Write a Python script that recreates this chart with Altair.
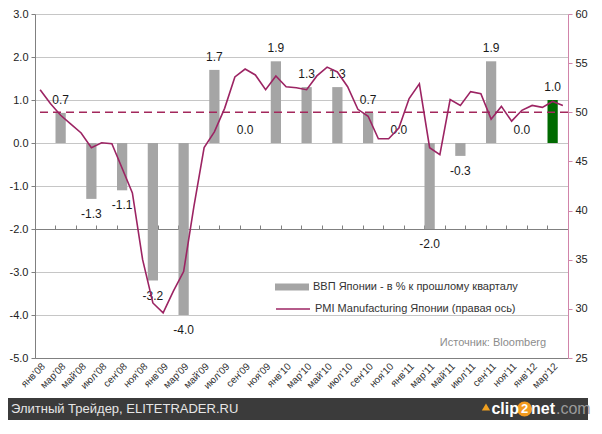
import altair as alt
import pandas as pd

# ---------------- data ----------------
month_names = ["янв", "фев", "мар", "апр", "май", "июн", "июл", "авг", "сен", "окт", "ноя", "дек"]
years = ["08", "09", "10", "11", "12"]
months = [f"{m}'{y}" for y in years for m in month_names][:52]   # янв'08 .. апр'12

pmi = [
    52.3, 50.9, 49.7, 48.8, 47.9, 46.4, 46.9, 46.8, 44.3, 41.8, 35.0, 30.6,   # 2008
    29.6, 31.8, 33.8, 40.4, 46.4, 48.0, 50.4, 53.6, 54.4, 53.8, 52.3, 53.7,   # 2009
    52.6, 52.5, 52.3, 53.7, 54.6, 54.1, 52.6, 50.3, 49.6, 47.3, 47.3, 48.4,   # 2010
    51.4, 52.9, 46.4, 45.7, 51.3, 50.7, 52.1, 51.9, 49.3, 50.6, 49.1, 50.2,   # 2011
    50.7, 50.5, 51.1, 50.7,                                                   # 2012
]

quarters = ["мар'08", "июн'08", "сен'08", "дек'08",
            "мар'09", "июн'09", "сен'09", "дек'09",
            "мар'10", "июн'10", "сен'10", "дек'10",
            "мар'11", "июн'11", "сен'11", "дек'11",
            "мар'12"]
gdp = [0.7, -1.3, -1.1, -3.2, -4.0, 1.7, 0.0, 1.9, 1.3, 1.3, 0.7, 0.0, -2.0, -0.3, 1.9, 0.0, 1.0]

gdp_name = "ВВП Японии - в % к прошлому кварталу"
last_name = "I кв. 2012"
pmi_name = "PMI Manufacturing Японии (правая ось)"
gdp_series = [gdp_name] * (len(gdp) - 1) + [last_name]

left_ticks = [-5, -4, -3, -2, -1, 0, 1, 2, 3]
right_ticks = [25, 30, 35, 40, 45, 50, 55, 60]

# ---------------- tables ----------------
df_gdp = pd.DataFrame({
    "q": quarters,
    "v": gdp,
    "series": gdp_series,
    "lbl": [f"{v:.1f}" for v in gdp],
})
df_pmi = pd.DataFrame({"m": months, "pmi": pmi, "name": [pmi_name] * len(pmi)})

W, H = 533, 344
FONT = "Liberation Sans"
GRAY_AX = "#808080"
GRID = "#c6c6c6"
LINE_C = "#9c2463"
RIGHT_AX = "#d184aa"

x_scale = alt.Scale(type="band", domain=months, paddingInner=0, paddingOuter=0)

# ---------------- GDP group (left axis) ----------------
bars = alt.Chart(df_gdp).mark_bar().encode(
    x=alt.X("q:N", scale=x_scale, title=None,
            axis=alt.Axis(values=months[0::2], labelAngle=-45, labelAlign="right",
                          labelBaseline="top", labelFontSize=10, labelColor="#333333",
                          labelPadding=3, ticks=False, domainColor=GRAY_AX,
                          labelFont=FONT, grid=False)),
    y=alt.Y("v:Q", scale=alt.Scale(domain=[-5, 3], nice=False, zero=False), title=None,
            axis=alt.Axis(values=left_ticks, grid=True, gridColor=GRID,
                          labelExpr="replace(format(datum.value, '.1f'), '\u2212', '-')",
                          domainColor=GRAY_AX, tickColor=GRAY_AX, tickSize=4,
                          labelFontSize=11, labelColor="#222222", labelFont=FONT,
                          labelPadding=3)),
    color=alt.Color("series:N",
                    scale=alt.Scale(domain=[gdp_name, last_name], range=["#a5a5a5", "#006a00"]),
                    legend=alt.Legend(orient="none", legendX=240, legendY=256, title=None,
                                      values=[gdp_name], symbolType="M-1,-0.2H1V0.2H-1Z",
                                      symbolSize=1156, symbolStrokeWidth=0,
                                      labelFontSize=11, labelFont=FONT, labelColor="#333333",
                                      labelLimit=400, labelOffset=4)),
)

lbl_pos = alt.Chart(df_gdp).transform_filter("datum.v >= 0").mark_text(
    dy=-13, fontSize=12, font=FONT, color="#1a1a1a"
).encode(x=alt.X("q:N", scale=x_scale), y=alt.Y("v:Q"), text="lbl:N")

lbl_neg = alt.Chart(df_gdp).transform_filter("datum.v < 0").mark_text(
    dy=15, fontSize=12, font=FONT, color="#1a1a1a"
).encode(x=alt.X("q:N", scale=x_scale), y=alt.Y("v:Q"), text="lbl:N")

source = alt.Chart(pd.DataFrame({"t": ["Источник: Bloomberg"]})).mark_text(
    align="center", baseline="middle", fontSize=11, font=FONT, color="#8c8c8c"
).encode(x=alt.value(458), y=alt.value(329), text="t:N")

# ---- screenshot footer band ----
footer_bg = alt.Chart(pd.DataFrame({"a": [0]})).mark_rect(color="#3b3b3b").encode(
    x=alt.value(-27), x2=alt.value(W + 20), y=alt.value(H + 40), y2=alt.value(H + 62))

footer_left = alt.Chart(pd.DataFrame({"t": ["Элитный Трейдер, ELITETRADER.RU"]})).mark_text(
    align="left", baseline="middle", fontSize=13, font=FONT, color="#e6e6e6"
).encode(x=alt.value(-24), y=alt.value(H + 51), text="t:N")

logo_arrow = alt.Chart(pd.DataFrame({"a": [0]})).mark_point(
    shape="triangle-up", filled=True, color="#f0a020", opacity=1, size=70
).encode(x=alt.value(W - 82), y=alt.value(H + 49))

logo_circle = alt.Chart(pd.DataFrame({"a": [0]})).mark_point(
    shape="circle", filled=True, color="#f39a1e", opacity=1, size=230
).encode(x=alt.value(W - 43.5), y=alt.value(H + 51))

footer_clip = alt.Chart(pd.DataFrame({"t": ["clip"]})).mark_text(
    align="right", baseline="middle", fontSize=16, font=FONT, fontWeight="bold", color="#ffffff"
).encode(x=alt.value(W - 49), y=alt.value(H + 51), text="t:N")

footer_two = alt.Chart(pd.DataFrame({"t": ["2"]})).mark_text(
    align="center", baseline="middle", fontSize=13, font=FONT, fontWeight="bold", color="#ffffff"
).encode(x=alt.value(W - 43.5), y=alt.value(H + 51), text="t:N")

footer_net = alt.Chart(pd.DataFrame({"t": ["net"]})).mark_text(
    align="left", baseline="middle", fontSize=16, font=FONT, fontWeight="bold", color="#ffffff"
).encode(x=alt.value(W - 37), y=alt.value(H + 51), text="t:N")

footer_com = alt.Chart(pd.DataFrame({"t": [".com"]})).mark_text(
    align="left", baseline="middle", fontSize=16, font=FONT, color="#9a9a9a"
).encode(x=alt.value(W - 12), y=alt.value(H + 51), text="t:N")

gdp_group = alt.layer(bars, lbl_pos, lbl_neg, source, footer_bg, footer_left,
                      logo_arrow, logo_circle, footer_clip, footer_two, footer_net, footer_com)

# ---------------- PMI group (right axis) ----------------
zero_offset = -(H * 5 / 8)   # moves this x axis up to the 0.0 line of the left scale

line = alt.Chart(df_pmi).mark_line(strokeWidth=1.6).encode(
    x=alt.X("m:N", scale=x_scale, title=None, sort=months,
            axis=alt.Axis(values=months[2::2], bandPosition=0, labels=False,
                          ticks=True, tickSize=4, tickColor=GRAY_AX, domainColor=GRAY_AX,
                          offset=zero_offset, grid=False)),
    y=alt.Y("pmi:Q", scale=alt.Scale(domain=[25, 60], nice=False, zero=False), title=None,
            axis=alt.Axis(orient="right", values=right_ticks, grid=False,
                          domainColor=RIGHT_AX, tickColor=RIGHT_AX, tickSize=4,
                          labelFontSize=11, labelColor="#222222", labelFont=FONT,
                          labelPadding=3)),
    stroke=alt.Stroke("name:N", scale=alt.Scale(domain=[pmi_name], range=[LINE_C]),
                      legend=alt.Legend(orient="none", legendX=240, legendY=277, title=None,
                                        symbolType="stroke", symbolSize=1156,
                                        symbolStrokeWidth=1.6,
                                        labelFontSize=11, labelFont=FONT, labelColor="#333333",
                                        labelLimit=400, labelOffset=4)),
)

rule50 = alt.Chart(pd.DataFrame({"y": [50]})).mark_rule(
    color="#a3285c", strokeWidth=1.6, strokeDash=[8, 5]
).encode(y=alt.Y("y:Q", scale=alt.Scale(domain=[25, 60], nice=False, zero=False)))

pmi_group = alt.layer(rule50, line)

chart = alt.layer(gdp_group, pmi_group).resolve_scale(
    x="independent", y="independent", color="independent", stroke="independent"
).resolve_axis(x="independent", y="independent").properties(
    width=W, height=H, padding={"left": 0, "top": 0, "right": 0, "bottom": 0},
    background="white",
).configure_view(stroke=None).configure(font=FONT)

chart.save("out.html", embed_options={"renderer": "svg", "actions": False})
